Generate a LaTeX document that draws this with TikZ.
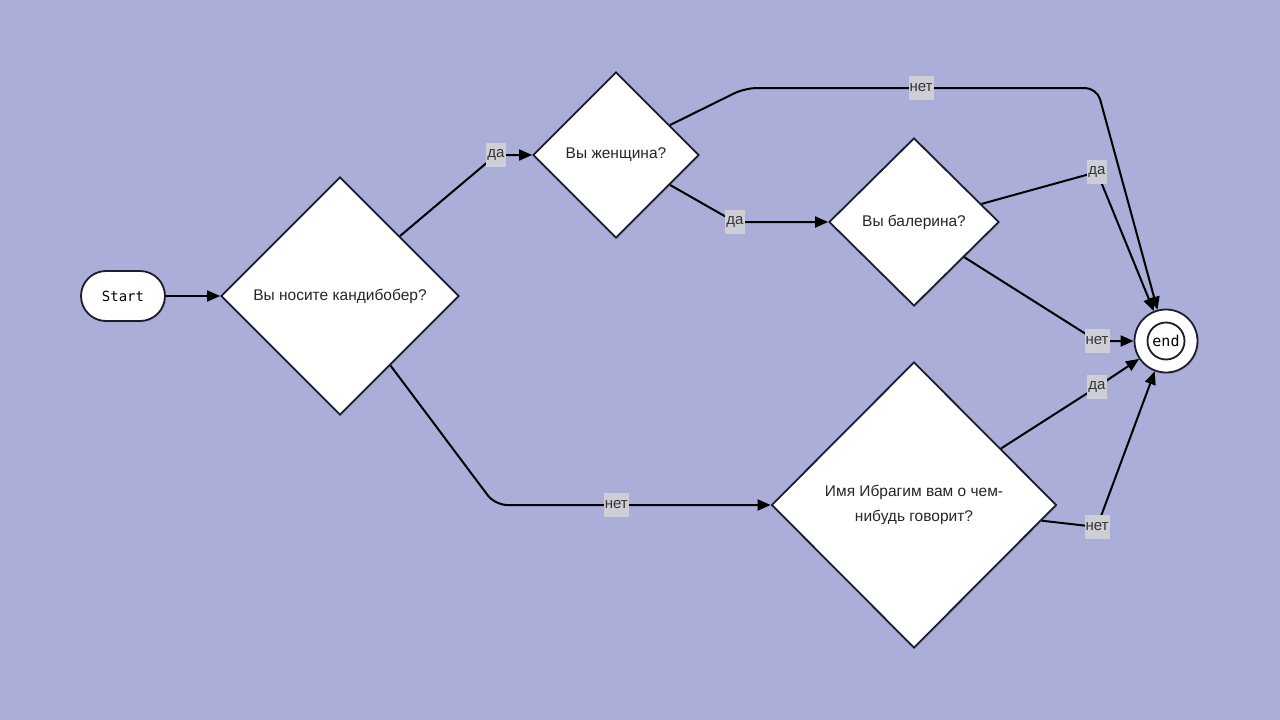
\documentclass[tikz,border=0pt]{standalone}
\usepackage{fontspec}
\setmainfont{Liberation Sans}
\setmonofont{DejaVu Sans Mono}
\usetikzlibrary{shapes.geometric,arrows.meta,shadows}
\definecolor{bg}{RGB}{171,174,216}
\definecolor{ink}{RGB}{28,28,48}
\definecolor{lblgray}{RGB}{206,207,214}
\tikzset{
  flow/.style={-{Triangle[length=13pt,width=11pt]}, line width=2pt, black},
  lbl/.style={sharp corners, fill=lblgray, inner xsep=1pt, inner ysep=0pt, minimum height=24pt,
    text=black!80, font=\fontsize{15}{17}\selectfont},
  box/.style={draw=ink, line width=1.8pt, fill=white,
    drop shadow={shadow xshift=1.5pt, shadow yshift=-1.5pt, opacity=0.2}},
  ask/.style={box, diamond, inner sep=0pt, align=center, text=black!85,
    font=\fontsize{15.5}{25}\selectfont},
}
\begin{document}
\begin{tikzpicture}[x=1pt,y=-1pt]
  \fill [bg] (0,0) rectangle (1280,720);
  \useasboundingbox (0,0) rectangle (1280,720);
  \node [box, rounded corners=25pt, minimum width=84pt, minimum height=50pt,
    font=\ttfamily\fontsize{14}{16}\selectfont] (start) at (123,296) {Start};
  \node [ask, minimum width=238pt, minimum height=238pt] (q1) at (340,296) {Вы носите кандибобер?};
  \node [ask, minimum width=166pt, minimum height=166pt] (q2) at (616,155) {Вы женщина?};
  \node [ask, minimum width=170pt, minimum height=168pt] (q3) at (914,222) {Вы балерина?};
  \node [ask, minimum width=285pt, minimum height=286pt] (q4) at (914,505) {Имя Ибрагим вам о чем-\\нибудь говорит?};
  \node [box, circle, minimum size=63pt, inner sep=0pt] (finish) at (1166,341) {};
  \node [circle, draw=ink, line width=1.8pt, minimum size=37pt, inner sep=0pt,
    font=\ttfamily\fontsize{15}{17}\selectfont] (fin) at (finish) {end};
  \draw [flow] (start) -- (q1);
  \draw [flow] (q1.north east) -- (496,155) node [lbl] {да} -- (q2);
  \draw [flow] (q2.-29) -- (735,222) node [lbl] {да} -- (q3);
  \draw [flow, rounded corners=12pt] (q2.29) -- (745,88) -- node [lbl] {нет} (1097,88) -- (finish);
  \draw [flow] (q3.15) -- (1097,172) node [lbl] {да} -- (finish);
  \draw [flow] (q3.-35) -- (1097,341) node [lbl] {нет} -- (finish);
  \draw [flow, rounded corners=12pt] (q1.-54) -- (495,505) -- node [lbl, pos=0.44] {нет} (q4);
  \draw [flow] (q4.33) -- (1097,387) node [lbl] {да} -- (finish);
  \draw [flow] (q4.-7) -- (1097,527) node [lbl] {нет} -- (finish);
\end{tikzpicture}
\end{document}
